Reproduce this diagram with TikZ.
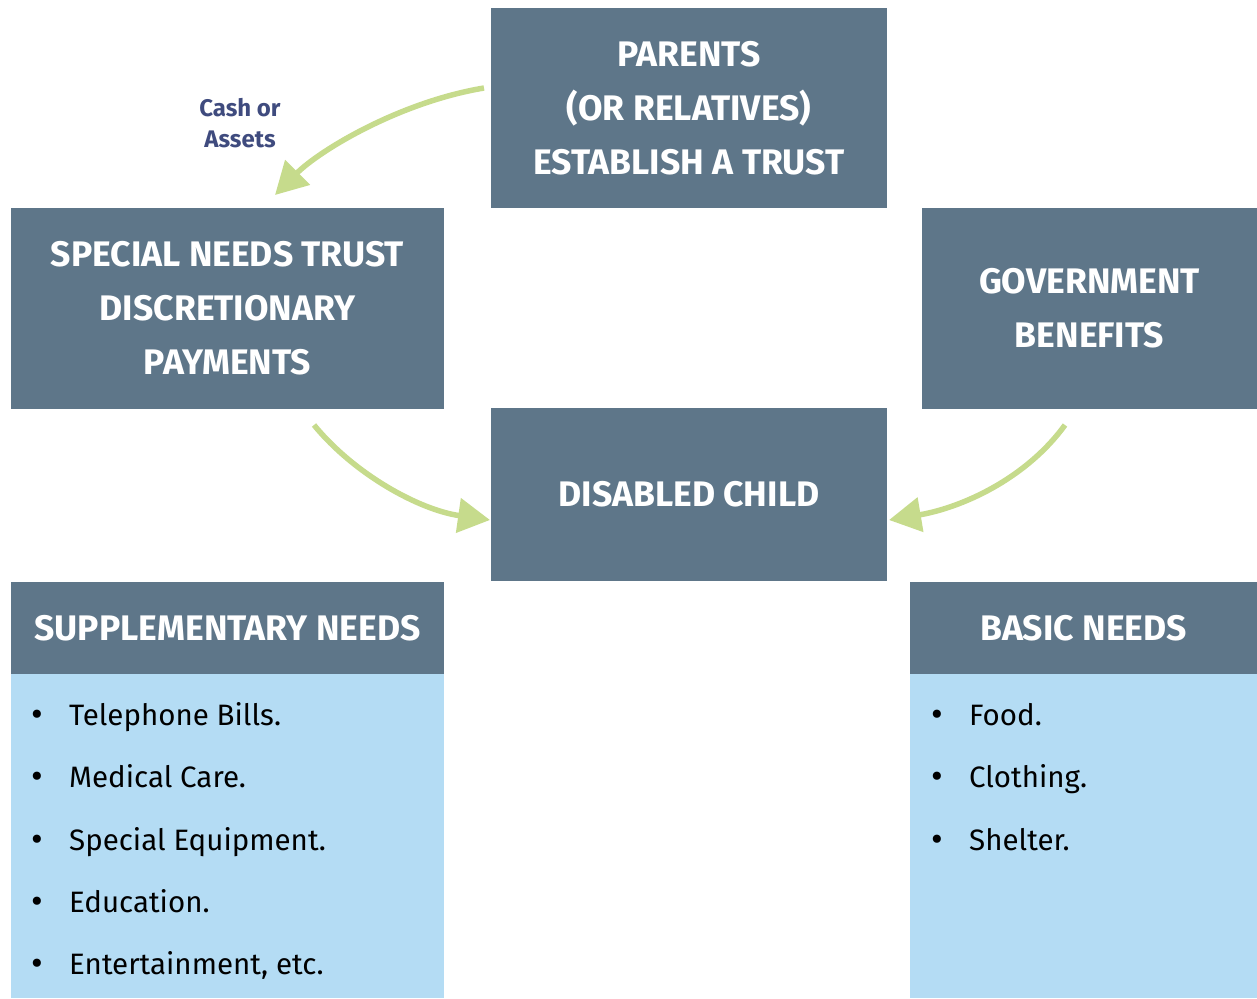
\documentclass[tikz,border=0pt]{standalone}
\usepackage{fontspec}
\setmainfont{Fira Sans}
\usetikzlibrary{arrows.meta}
\definecolor{boxslate}{HTML}{5E7689}
\definecolor{lightblue}{HTML}{B4DCF4}
\definecolor{arrowgreen}{HTML}{C6DB8C}
\definecolor{labelblue}{HTML}{3F4B7E}
\tikzset{
  slatebox/.style={fill=boxslate, inner sep=0pt, text=white, align=center,
    font=\fontsize{35.5}{54}\selectfont\bfseries},
  listbody/.style={fill=lightblue, inner sep=0pt},
  listitem/.style={anchor=base west, inner sep=0pt, font=\fontsize{29.5}{29.5}\selectfont},
  flowarrow/.style={draw=arrowgreen, line width=5.5pt,
    -{Triangle[length=32pt,width=34pt]}},
}
\newcommand{\bitem}[1]{\makebox[38pt][l]{\raisebox{-1pt}{\fontsize{36}{36}\selectfont•}}#1}
\begin{document}
\begin{tikzpicture}[x=1pt,y=-1pt]
\useasboundingbox (0,0) rectangle (1257,998);
% boxes
\node[slatebox, minimum width=396pt, minimum height=200pt] (parents) at (689,108)
  {PARENTS\\(OR RELATIVES)\\ESTABLISH A TRUST};
\node[slatebox, minimum width=433pt, minimum height=201pt] (snt) at (227.5,308.5)
  {SPECIAL NEEDS TRUST\\DISCRETIONARY\\PAYMENTS};
\node[slatebox, minimum width=335pt, minimum height=201pt] (gov) at (1089.5,308.5)
  {GOVERNMENT\\BENEFITS};
\node[slatebox, minimum width=396pt, minimum height=173pt] (child) at (689,494.5)
  {DISABLED CHILD};
\node[slatebox, minimum width=433pt, minimum height=92pt, text depth=0pt] (supp) at (227.5,628)
  {SUPPLEMENTARY NEEDS};
\node[listbody, minimum width=433pt, minimum height=324pt] (suppbody) at (227.5,836) {};
\node[slatebox, minimum width=347pt, minimum height=92pt, text depth=0pt] (basic) at (1083.5,628)
  {BASIC NEEDS};
\node[listbody, minimum width=347pt, minimum height=324pt] (basicbody) at (1083.5,836) {};
% list items
\node[listitem] (s1) at (31,725) {\bitem{Telephone Bills.}};
\node[listitem] (s2) at (31,787) {\bitem{Medical Care.}};
\node[listitem] (s3) at (31,850) {\bitem{Special Equipment.}};
\node[listitem] (s4) at (31,912) {\bitem{Education.}};
\node[listitem] (s5) at (31,974) {\bitem{Entertainment, etc.}};
\node[listitem] (b1) at (931,725) {\bitem{Food.}};
\node[listitem] (b2) at (931,787) {\bitem{Clothing.}};
\node[listitem] (b3) at (931,850) {\bitem{Shelter.}};
% label
\node[text=labelblue, align=center, font=\fontsize{24}{31}\selectfont\bfseries] (cash) at (240,123)
  {Cash or\\Assets};
% arrow endpoints
\coordinate (a1s) at (484,88);
\coordinate (a1e) at (275,195);
\coordinate (a2s) at (314,425);
\coordinate (a2e) at (490,520);
\coordinate (a3s) at (1065,425);
\coordinate (a3e) at (889,520);
\draw[flowarrow] (a1s) .. controls (400,102) and (320,150) .. (a1e);
\draw[flowarrow] (a2s) .. controls (355,475) and (420,510) .. (a2e);
\draw[flowarrow] (a3s) .. controls (1025,480) and (960,508) .. (a3e);
\end{tikzpicture}
\end{document}
